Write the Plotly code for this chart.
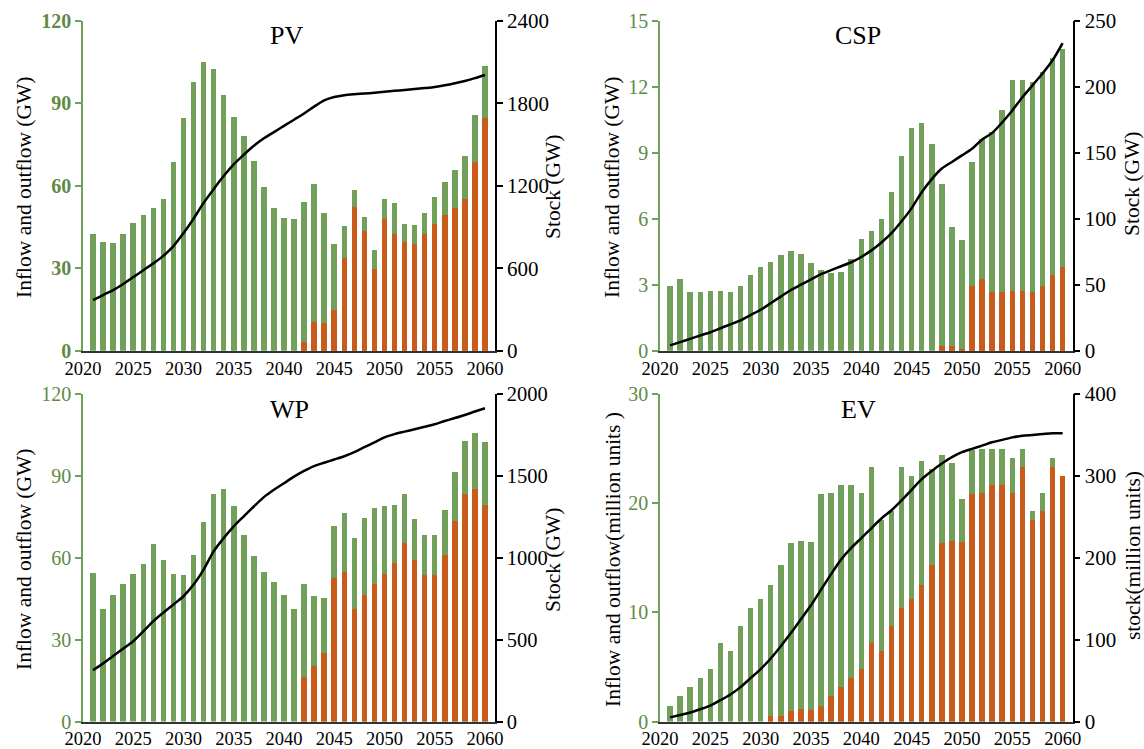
import plotly.graph_objects as go

years = list(range(2021, 2061))
tick_years = [2020, 2025, 2030, 2035, 2040, 2045, 2050, 2055, 2060]

pv_inflow = [42.7, 39.8, 39.2, 42.7, 46.4, 49.6, 52.1, 55.3, 68.6, 84.7,
             97.8, 105.2, 102.4, 93.2, 85.0, 78.1, 69.2, 59.5, 52.0, 48.2,
             47.9, 54.2, 60.9, 50.2, 38.9, 45.6, 58.6, 48.9, 36.8, 55.3,
             53.8, 46.2, 45.9, 50.1, 55.9, 61.6, 65.9, 70.9, 85.8, 103.5]
pv_outflow = [0] * 21 + [3.4, 10.7, 10.3, 14.8, 33.9, 52.5, 43.8, 29.8, 48.1, 42.7,
                         39.8, 39.0, 42.7, 46.3, 49.5, 52.1, 55.2, 68.7, 84.8]
pv_stock = [368, 405, 440, 485, 535, 585, 635, 690, 760, 855,
            960, 1075, 1175, 1270, 1355, 1425, 1490, 1545, 1590, 1635,
            1680, 1725, 1775, 1820, 1845, 1858, 1865, 1870, 1876, 1883,
            1890, 1896, 1903, 1910, 1918, 1930, 1945, 1962, 1982, 2005]

csp_inflow = [2.97, 3.26, 2.67, 2.68, 2.71, 2.71, 2.67, 2.95, 3.45, 3.83,
              4.05, 4.35, 4.55, 4.42, 4.0, 3.70, 3.55, 3.58, 4.2, 5.08,
              5.47, 5.98, 7.21, 8.85, 10.12, 10.36, 9.41, 7.59, 5.62, 5.03,
              8.58, 9.65, 9.95, 10.97, 12.33, 12.30, 12.23, 12.67, 13.3, 13.74]
csp_outflow = [0] * 27 + [0.21, 0.21, 0.08,
                          2.97, 3.26, 2.67, 2.68, 2.71, 2.71, 2.67, 2.95, 3.45, 3.83]
csp_stock = [4, 6.5, 9, 11.5, 14, 17, 20, 23, 27, 31,
             36, 41, 46, 50, 54, 58, 61, 64, 67, 71,
             76, 82, 89, 98, 108, 120, 130, 138, 143, 148,
             153, 160, 165, 173, 182, 192, 201, 210, 220, 233]

wp_inflow = [54.5, 41.4, 46.2, 50.5, 54.0, 57.7, 65.2, 59.0, 54.0, 53.5,
             61.0, 73.2, 83.2, 85.2, 79.0, 68.5, 60.5, 54.8, 51.0, 46.5,
             41.2, 50.3, 46.0, 45.3, 71.6, 76.5, 67.4, 74.4, 78.1, 78.9,
             79.4, 83.3, 74.3, 68.5, 68.5, 77.5, 91.6, 102.8, 105.7, 102.4]
wp_outflow = [0] * 21 + [16.4, 20.2, 25.0, 52.4, 54.6, 41.3, 46.2, 50.4, 54.0, 57.9,
                         65.3, 59.1, 53.8, 53.5, 61.0, 73.3, 83.2, 85.3, 79.2]
wp_stock = [313, 355, 400, 445, 490, 550, 613, 665, 715, 765,
            836, 928, 1039, 1120, 1192, 1253, 1313, 1370, 1415, 1455,
            1495, 1530, 1560, 1580, 1600, 1620, 1645, 1675, 1705, 1735,
            1755, 1770, 1785, 1800, 1815, 1835, 1853, 1872, 1893, 1913]

ev_inflow = [1.46, 2.37, 3.19, 3.99, 4.81, 7.15, 6.42, 8.76, 10.40, 11.26,
             12.5, 14.3, 16.37, 16.49, 16.43, 20.8, 20.9, 21.7, 21.7, 20.9,
             23.3, 18.47, 19.29, 23.3, 22.5, 23.85, 23.1, 24.4, 23.7, 20.4,
             24.9, 24.95, 24.95, 24.95, 24.1, 24.95, 19.3, 20.9, 24.1, 22.0]
ev_outflow = [0] * 10 + [0.46, 0.55, 1.0, 1.16, 1.06, 1.46, 2.37, 3.19, 3.99, 4.81,
                         7.15, 6.42, 8.76, 10.4, 11.26, 12.5, 14.3, 16.37, 16.49, 16.43,
                         20.8, 20.9, 21.7, 21.7, 20.9, 23.3, 18.47, 19.29, 23.3, 22.5]
ev_stock = [5, 8, 11, 15, 19.5, 26, 33, 42, 53, 64,
            77, 92, 108, 125, 142, 161, 180, 198, 212, 224,
            236, 248, 258, 270, 283, 296, 306, 315, 323, 329,
            333, 337, 341, 344, 347, 349, 350, 351, 352, 352]

W, H = 1144, 749
GREEN = "#71A05B"
ORANGE = "#C95B1B"
TICKGREEN = "#5E8A45"
FONT = "Liberation Serif"


def px(x):
    return x / W


def py(y):
    return 1 - y / H


panels = [
    dict(name="PV", inflow=pv_inflow, outflow=pv_outflow, stock=pv_stock,
         left=(0, 120, 30), right=(0, 2400, 600), box=(83, 495, 20.7, 350.7),
         ltitle="Inflow and outflow (GW)", rtitle="Stock (GW)",
         lt_x=24, rt_x=553, lt_y=187, rt_y=187, title_x=286, bold=True, rsize=21),
    dict(name="CSP", inflow=csp_inflow, outflow=csp_outflow, stock=csp_stock,
         left=(0, 15, 3), right=(0, 250, 50), box=(660, 1072.7, 20.7, 350.7),
         ltitle="Inflow and outflow (GW)", rtitle="Stock (GW)",
         lt_x=612, rt_x=1132, lt_y=187, rt_y=184, title_x=858, bold=False, rsize=21),
    dict(name="WP", inflow=wp_inflow, outflow=wp_outflow, stock=wp_stock,
         left=(0, 120, 30), right=(0, 2000, 500), box=(83, 495, 394, 721.5),
         ltitle="Inflow and outflow (GW)", rtitle="Stock (GW)",
         lt_x=24, rt_x=553, lt_y=559, rt_y=560, title_x=289, bold=False, rsize=20.5),
    dict(name="EV", inflow=ev_inflow, outflow=ev_outflow, stock=ev_stock,
         left=(0, 30, 10), right=(0, 400, 100), box=(660, 1072.7, 394, 721.5),
         ltitle="Inflow and outflow(million units )", rtitle="stock(million units)",
         lt_x=613, rt_x=1133, lt_y=560, rt_y=556, title_x=858, bold=False, rsize=21),
]

fig = go.Figure()
layout = dict(
    width=W, height=H,
    margin=dict(l=0, r=0, t=0, b=0, autoexpand=False),
    paper_bgcolor="white", plot_bgcolor="white",
    barmode="overlay", bargap=0, showlegend=False,
    font=dict(family=FONT, size=19, color="black"),
)
annotations = []

for i, p in enumerate(panels):
    k = i + 1
    xa = "x" if k == 1 else f"x{k}"
    ya = "y" if k == 1 else f"y{k}"
    yr = f"y{k + 4}"
    x0, x1, ytop, ybot = p["box"]
    xdom = [px(x0), px(x1)]
    ydom = [py(ybot), py(ytop)]

    fig.add_trace(go.Bar(x=years, y=p["inflow"], width=0.55, marker=dict(color=GREEN, line=dict(width=0)),
                         xaxis=xa, yaxis=ya, name="Inflow"))
    fig.add_trace(go.Bar(x=years, y=p["outflow"], width=0.55, marker=dict(color=ORANGE, line=dict(width=0)),
                         xaxis=xa, yaxis=ya, name="Outflow"))
    fig.add_trace(go.Scatter(x=years, y=p["stock"], mode="lines",
                             line=dict(color="black", width=2.5, shape="spline", smoothing=0.8),
                             xaxis=xa, yaxis=yr, name="Stock"))

    xkey = "xaxis" if k == 1 else f"xaxis{k}"
    ykey = "yaxis" if k == 1 else f"yaxis{k}"
    layout[xkey] = dict(domain=xdom, anchor=ya, range=[2020, 2061], automargin=False,
                        tickvals=tick_years, ticktext=[str(t) for t in tick_years],
                        showline=True, linecolor="#333333", linewidth=1.5,
                        ticks="", showgrid=False, zeroline=False,
                        tickfont=dict(family=FONT, size=18.5, color="black"))
    lo, hi, dt = p["left"]
    layout[ykey] = dict(domain=ydom, anchor=xa, range=[lo, hi], dtick=dt, tick0=0,
                        automargin=False,
                        showline=True, linecolor=GREEN, linewidth=1.5,
                        ticks="outside", ticklen=6, tickcolor=GREEN, tickwidth=1.5,
                        showgrid=False, zeroline=False,
                        tickfont=dict(family=FONT, size=20, color=TICKGREEN,
                                      weight="bold" if p["bold"] else "normal"))
    rlo, rhi, rdt = p["right"]
    layout[f"yaxis{k + 4}"] = dict(overlaying=ya, anchor=xa, side="right",
                                   range=[rlo, rhi], dtick=rdt, tick0=0, automargin=False,
                                   showline=True, linecolor="black", linewidth=1.5,
                                   ticks="outside", ticklen=6, tickcolor="black", tickwidth=1.5,
                                   showgrid=False, zeroline=False,
                                   tickfont=dict(family=FONT, size=p["rsize"], color="black"))

    annotations.append(dict(text=p["name"], x=px(p["title_x"]), y=py(ytop + 15),
                            xref="paper", yref="paper", showarrow=False,
                            xanchor="center", yanchor="middle",
                            font=dict(family=FONT, size=26, color="black")))
    annotations.append(dict(text=p["ltitle"], x=px(p["lt_x"]), y=py(p["lt_y"]),
                            xref="paper", yref="paper", showarrow=False, textangle=-90,
                            xanchor="center", yanchor="middle",
                            font=dict(family=FONT, size=21.5, color="black")))
    annotations.append(dict(text=p["rtitle"], x=px(p["rt_x"]), y=py(p["rt_y"]),
                            xref="paper", yref="paper", showarrow=False, textangle=-90,
                            xanchor="center", yanchor="middle",
                            font=dict(family=FONT, size=21.5, color="black")))

layout["annotations"] = annotations
fig.update_layout(**layout)
fig.write_html("out.html",
               config={"displayModeBar": False},
               post_script="document.body.style.margin='0';document.body.style.overflow='hidden';")
